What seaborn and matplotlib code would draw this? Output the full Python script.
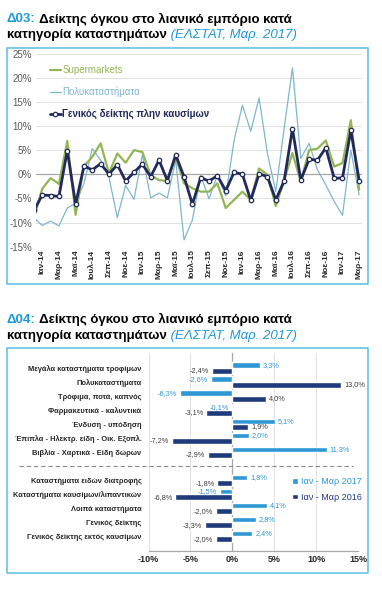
import numpy as np
import pandas as pd
import matplotlib
matplotlib.use("Agg")
import matplotlib.pyplot as plt
from matplotlib.patches import Rectangle
from matplotlib.ticker import FuncFormatter
import seaborn as sns

# ---------------- data: chart Δ03 (line chart) ----------------
months = ["Δεκ-13",
          "Ιαν-14", "Φεβ-14", "Μαρ-14", "Απρ-14", "Μαϊ-14", "Ιουν-14", "Ιουλ-14", "Αυγ-14", "Σεπ-14", "Οκτ-14", "Νοε-14", "Δεκ-14",
          "Ιαν-15", "Φεβ-15", "Μαρ-15", "Απρ-15", "Μαϊ-15", "Ιουν-15", "Ιουλ-15", "Αυγ-15", "Σεπ-15", "Οκτ-15", "Νοε-15", "Δεκ-15",
          "Ιαν-16", "Φεβ-16", "Μαρ-16", "Απρ-16", "Μαϊ-16", "Ιουν-16", "Ιουλ-16", "Αυγ-16", "Σεπ-16", "Οκτ-16", "Νοε-16", "Δεκ-16",
          "Ιαν-17", "Φεβ-17", "Μαρ-17"]
supermarkets = [-9.0,
                -3.0, -0.8, -2.0, 6.9, -8.4, 1.7, 3.6, 6.4, 0.2, 4.3, 2.4, 5.0,
                4.6, -0.2, -1.2, -1.4, 3.6, -1.9, -2.9, -3.6, -3.6, -1.9, -7.0, -5.3,
                -3.6, -5.3, 1.2, -0.1, -6.6, -1.3, 4.4, -1.5, 5.0, 5.3, 7.0, 1.6,
                2.3, 11.2, -3.2]
dept_stores = [-9.0,
               -10.6, -9.7, -10.7, -7.0, -6.0, -1.9, 5.3, 2.9, -0.6, -9.0, -2.3, -5.2,
               4.0, -4.9, -3.9, -4.9, 2.9, -13.6, -9.5, -0.3, -5.1, -0.2, -4.5, 7.0,
               14.3, 8.9, 15.8, 4.3, -3.6, 9.4, 22.0, 3.3, 6.4, 0.9, -2.2, -5.6,
               -8.5, 5.0, -4.3]
general_ex_fuel = [-7.5,
                   -4.3, -4.4, -4.6, 4.9, -6.2, 1.7, 0.9, 2.2, 0.0, 2.0, -1.4, 0.4,
                   2.1, -0.5, 2.9, -1.3, 4.0, -0.5, -6.2, -0.7, -1.4, -0.3, -3.4, 0.4,
                   0.0, -5.4, 0.1, -0.5, -5.3, -1.4, 9.4, -1.2, 3.1, 2.9, 5.5, -0.8,
                   -0.8, 9.1, -1.3]
line_names = ["Supermarkets", "Πολυκαταστήματα", "Γενικός δείκτης πλην καυσίμων"]
y_ticks_line = [-15, -10, -5, 0, 5, 10, 15, 20, 25]

# ---------------- data: chart Δ04 (bar chart) ----------------
cats_top = ["Μεγάλα καταστήματα τροφίμων", "Πολυκαταστήματα", "Τρόφιμα, ποτά, καπνός",
            "Φαρμακευτικά - καλυντικά", "Ένδυση - υπόδηση",
            "Έπιπλα - Ηλεκτρ. είδη - Οικ. Εξοπλ.", "Βιβλία - Χαρτικά - Είδη δώρων"]
cats_bottom = ["Καταστήματα ειδών διατροφής", "Καταστήματα καυσίμων/λιπαντικών",
               "Λοιπά καταστήματα", "Γενικός δείκτης", "Γενικός δείκτης εκτός καυσίμων"]
q1_2017 = [3.3, -2.6, -6.3, -0.1, 5.1, 2.0, 11.3, 1.8, -1.5, 4.1, 2.8, 2.4]
q1_2016 = [-2.4, 13.0, 4.0, -3.1, 1.9, -7.2, -2.9, -1.8, -6.8, -2.0, -3.3, -2.0]
periods = ["Ιαν - Μαρ 2017", "Ιαν - Μαρ 2016"]
x_ticks_bar = [-10, -5, 0, 5, 10, 15]

# ---------------- style ----------------
sns.set_style("white")
plt.rcParams['font.family'] = ['Liberation Sans', 'DejaVu Sans']

C_GREEN = "#93B655"
C_LBLUE = "#7FB7CE"
C_NAVY = "#222A5C"
C_TITLE = "#1E9AD6"
C_BOX = "#5BBCE6"
C_BAR17 = "#2F97D4"
C_BAR16 = "#1F3B7B"
C_GRID = "#DCDCDC"
C_TXT = "#262626"

W, H = 382.0, 600.0
def fx(px):
    return px / W
def fy(py):
    return 1.0 - py / H

fig = plt.figure(figsize=(3.82, 6.0), dpi=100)

# panel boxes
for (x0, y0, x1, y1) in [(7.3, 47.7, 367.7, 284.0), (7.3, 348.0, 367.7, 573.0)]:
    fig.add_artist(Rectangle((fx(x0), fy(y1)), (x1 - x0) / W, (y1 - y0) / H,
                             transform=fig.transFigure, fill=False, ec=C_BOX, lw=1.1))

ax1 = fig.add_axes([fx(36), fy(246.7), (362 - 36) / W, (246.7 - 53.5) / H])
ax2 = fig.add_axes([fx(148.5), fy(551.0), (358 - 148.5) / W, (551.0 - 353.4) / H])

# titles (rich text chained)
TS = 9.5
def rich_line(x, y, parts):
    prev = None
    for text, kw in parts:
        if prev is None:
            prev = fig.text(x, y, text, va='baseline', ha='left', size=TS, **kw)
        else:
            prev = ax1.annotate(text, xy=(1, 0), xycoords=prev, va='bottom', ha='left',
                                size=TS, annotation_clip=False, **kw)

rich_line(fx(7), fy(22.5), [("Δ03:", dict(color=C_TITLE, weight='bold')),
                            (" Δείκτης όγκου στο λιανικό εμπόριο κατά", dict(color='black', weight='bold'))])
rich_line(fx(7), fy(38.0), [("κατηγορία καταστημάτων", dict(color='black', weight='bold')),
                            (" (ΕΛΣΤΑΤ, Μαρ. 2017)", dict(color=C_TITLE, style='italic'))])
rich_line(fx(7), fy(323.0), [("Δ04:", dict(color=C_TITLE, weight='bold')),
                             (" Δείκτης όγκου στο λιανικό εμπόριο κατά", dict(color='black', weight='bold'))])
rich_line(fx(7), fy(338.5), [("κατηγορία καταστημάτων", dict(color='black', weight='bold')),
                             (" (ΕΛΣΤΑΤ, Μαρ. 2017)", dict(color=C_TITLE, style='italic'))])

# ---------------- line chart ----------------
pos = np.arange(len(months))
df_line = pd.DataFrame({"pos": pos, "month": months,
                        line_names[0]: supermarkets,
                        line_names[1]: dept_stores,
                        line_names[2]: general_ex_fuel})

ax1.axhline(0, color="#A8A8A8", lw=0.9, zorder=1)
sns.lineplot(data=df_line, x="pos", y=line_names[0], ax=ax1, color=C_GREEN, lw=1.6, zorder=3)
h_green = ax1.lines[-1]
sns.lineplot(data=df_line, x="pos", y=line_names[1], ax=ax1, color=C_LBLUE, lw=0.9, zorder=2)
h_blue = ax1.lines[-1]
sns.lineplot(data=df_line, x="pos", y=line_names[2], ax=ax1, color=C_NAVY, lw=2.0, zorder=4,
             marker='o', markersize=3.2, markerfacecolor='white', markeredgecolor=C_NAVY,
             markeredgewidth=0.9)
h_navy = ax1.lines[-1]

ax1.set_xlim(0.25, len(months) - 1 + 0.34)
ax1.set_ylim(y_ticks_line[0], y_ticks_line[-1])
ax1.set_yticks(y_ticks_line)
ax1.yaxis.set_major_formatter(FuncFormatter(lambda v, p: f"{v:.0f}%"))
ax1.set_xticks(pos[1::2], labels=months[1::2])
ax1.tick_params(axis='x', length=0, pad=2, labelsize=6, labelcolor=C_TXT, rotation=90)
ax1.tick_params(axis='y', length=0, pad=3, labelsize=7, labelcolor="#595959")
for lbl in ax1.get_xticklabels():
    lbl.set_fontweight('bold')
ax1.grid(axis='y', color=C_GRID, lw=0.6)
ax1.grid(axis='x', visible=False)
ax1.set_xlabel("")
ax1.set_ylabel("")
for s in ax1.spines.values():
    s.set_visible(False)

leg1 = ax1.legend(handles=[h_green, h_blue, h_navy], labels=line_names, loc='upper left',
                  bbox_to_anchor=(0.043, 0.94), frameon=False, fontsize=7,
                  handlelength=1.1, handletextpad=0.15, labelspacing=1.2,
                  borderpad=0, borderaxespad=0)
for t, c in zip(leg1.get_texts(), [C_GREEN, C_LBLUE, C_NAVY]):
    t.set_color(c)
leg1.get_texts()[2].set_fontweight('bold')

# ---------------- bar chart ----------------
SEP = " "
order = cats_top + [SEP] + cats_bottom
all_cats = cats_top + cats_bottom
df_bar = pd.DataFrame({
    "cat": all_cats * 2,
    "period": [periods[0]] * len(all_cats) + [periods[1]] * len(all_cats),
    "value": q1_2017 + q1_2016,
})
sns.barplot(data=df_bar, y="cat", x="value", hue="period", order=order, hue_order=periods,
            palette=[C_BAR17, C_BAR16], orient='h', ax=ax2, width=0.8, saturation=1,
            legend=True, zorder=3)

ax2.set_xlim(x_ticks_bar[0], x_ticks_bar[-1])
ax2.set_xticks(x_ticks_bar)
ax2.xaxis.set_major_formatter(FuncFormatter(lambda v, p: f"{v:.0f}%"))
ax2.grid(axis='x', color=C_GRID, lw=0.6, zorder=0)
ax2.set_axisbelow(True)
ax2.axvline(0, color="#A8A8A8", lw=0.9, zorder=2)
ax2.set_xlabel("")
ax2.set_ylabel("")
for name, s in ax2.spines.items():
    s.set_visible(name == 'bottom')
ax2.spines['bottom'].set_color("#A8A8A8")
ax2.spines['bottom'].set_linewidth(0.9)
ax2.tick_params(axis='y', length=0, pad=5, labelsize=5.4, labelcolor=C_TXT)
ax2.tick_params(axis='x', length=0, pad=3, labelsize=6.5, labelcolor=C_TXT)
for lbl in ax2.get_yticklabels() + ax2.get_xticklabels():
    lbl.set_fontweight('bold')

fmt = lambda v: f"{v:.1f}%".replace('.', ',')
for cont, col in zip(ax2.containers, [C_BAR17, "#404040"]):
    ax2.bar_label(cont, fmt=fmt, padding=2, fontsize=5.3, color=col)

# dashed separator in the empty slot
sep_y = order.index(SEP)
ax2.plot([-0.62, 0.976], [sep_y, sep_y], transform=ax2.get_yaxis_transform(),
         color="#8C8C8C", lw=0.8, ls=(0, (4, 2.5)), clip_on=False)

old = ax2.get_legend()
handles = old.legend_handles
labels = [t.get_text() for t in old.get_texts()]
old.remove()
leg2 = ax2.legend(handles=handles, labels=labels, loc='upper right',
                  bbox_to_anchor=(1.02, 0.372), frameon=False, fontsize=6.5,
                  handlelength=0.6, handleheight=0.6, handletextpad=0.4,
                  labelspacing=0.7, borderpad=0, borderaxespad=0)
for t, c in zip(leg2.get_texts(), [C_BAR17, C_BAR16]):
    t.set_color(c)

fig.savefig("out.png", dpi=100)
